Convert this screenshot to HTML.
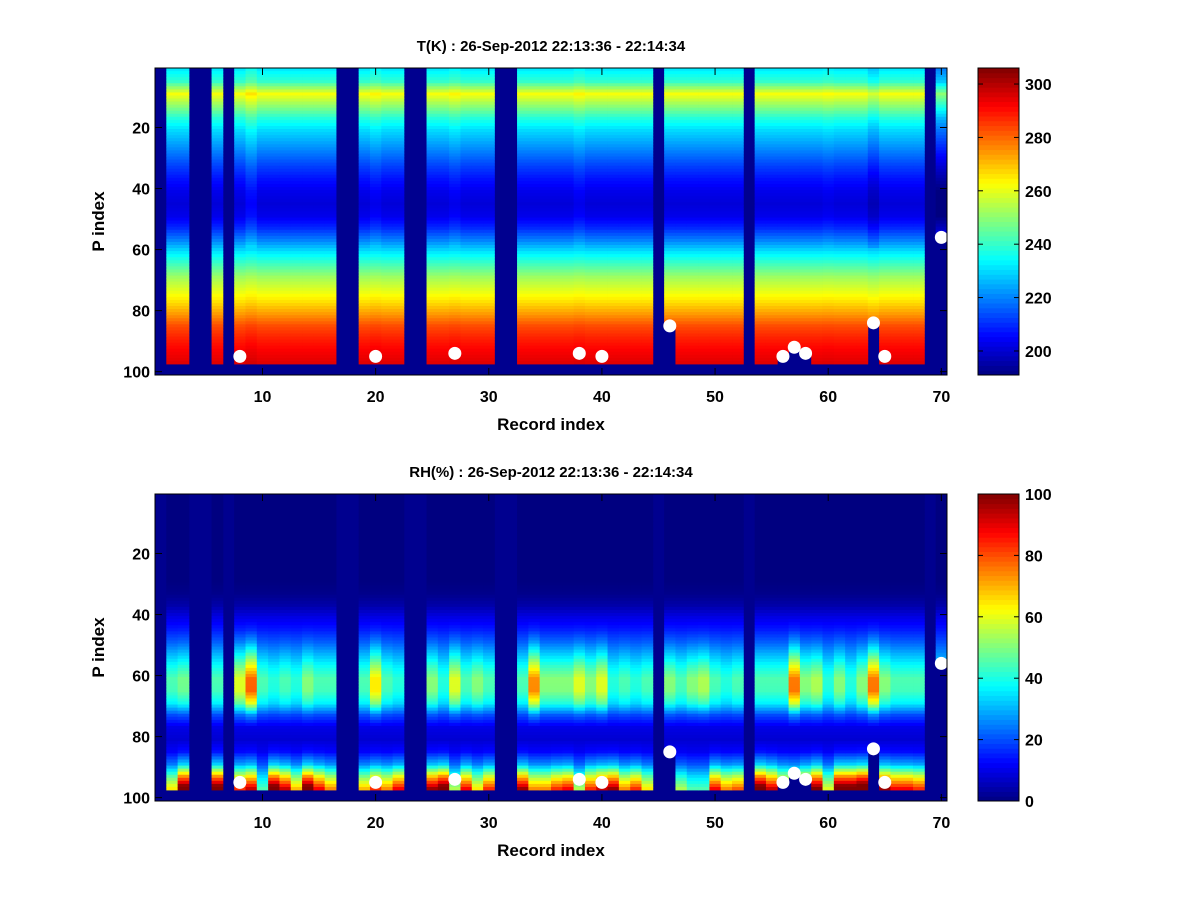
<!DOCTYPE html>
<html><head><meta charset="utf-8"><style>
html,body{margin:0;padding:0;background:#fff}
svg{display:block}
text{font-family:"Liberation Sans",sans-serif;font-weight:bold;fill:#000}
</style></head><body>
<svg id="fig" width="1200" height="900" viewBox="0 0 1200 900" xmlns="http://www.w3.org/2000/svg"></svg>
<script>
// ---- data ----
const cols = Array.from({length:70},(_,i)=>i+1);
const missingCols = [1,4,5,7,17,18,23,24,31,32,45,53,69];
const cutCols = [46,56,57,58,64,70];
const cutRows = [84,95,92,94,84,56];
const pKnots = [1,5,9,13,17,21,25,29,33,37,41,45,49,53,57,61,65,69,73,77,81,85,89,93,97];
const tProfile = [232,240,262,250,238,230,224,218,212,207,203,201,203,210,220,232,242,252,259,266,274,283,288,292,295];
const tOffCols = [70,64,9,27,20,38,60];
const tOffVals = [-12,-4,4,2,2,2,1];
const rhBg = [0,0,0,0,0,0,0,0,1,4,10,14,18,22,26,28,26,24,16,10,8,10,16,22,26];
const rhMidShape = [0,0,0,0,0,0,0,0,0,0,0,0.05,0.2,0.45,0.7,0.95,1,0.7,0.2,0,0,0,0,0,0];
const rhSfcShape = [0,0,0,0,0,0,0,0,0,0,0,0,0,0,0,0,0,0,0,0,0,0.05,0.2,0.6,0.95];
const rhMidCols = [2,3,6,8,9,10,11,12,13,14,15,16,19,20,21,22,25,26,27,28,29,30,33,34,35,36,37,38,39,40,41,42,43,44,46,47,48,49,50,51,52,54,55,56,57,58,59,60,61,62,63,64,65,66,67,68,70];
const rhMidVals = [18,22,18,33,52,18,14,18,14,24,18,18,18,38,18,14,24,14,33,18,24,18,18,48,24,24,24,33,24,33,14,18,14,18,24,18,24,28,18,14,18,18,18,18,50,24,28,14,24,14,24,50,24,18,18,18,10];
const rhSfcVals = [40,85,85,60,70,20,85,70,45,85,65,50,45,60,50,65,75,85,30,65,40,60,75,50,50,60,65,30,60,70,75,50,60,40,0,30,20,20,65,50,55,85,70,50,45,60,80,35,85,85,92,0,75,65,65,60,0];
const dotCols = [8,20,27,38,40,46,56,57,58,64,65,70];
const dotRows = [95,95,94,94,95,85,95,92,94,84,95,56];
const xTicks = [10,20,30,40,50,60,70];
const yTicks = [20,40,60,80,100];
const tCbTicks = [200,220,240,260,280,300];
const rhCbTicks = [0,20,40,60,80,100];

const NS="http://www.w3.org/2000/svg";
const svg=document.getElementById('fig');
function mk(tag,attrs,parent){const e=document.createElementNS(NS,tag);for(const k in attrs)e.setAttribute(k,attrs[k]);(parent||svg).appendChild(e);return e;}
function jet(v){
  v=Math.max(0,Math.min(1,v));
  const r=Math.max(0,Math.min(1,Math.min(4*v-1.5,-4*v+4.5)));
  const g=Math.max(0,Math.min(1,Math.min(4*v-0.5,-4*v+3.5)));
  const b=Math.max(0,Math.min(1,Math.min(4*v+0.5,-4*v+2.5)));
  return `rgb(${Math.round(r*255)},${Math.round(g*255)},${Math.round(b*255)})`;
}
function interp(arr,p){
  for(let i=0;i<pKnots.length-1;i++){if(p<=pKnots[i+1]){const t=(p-pKnots[i])/(pKnots[i+1]-pKnots[i]);return arr[i]+(arr[i+1]-arr[i])*Math.max(0,t);}}
  return arr[arr.length-1];
}
function lookup(keys,vals,c,d){const i=keys.indexOf(c);return i<0?d:vals[i];}

function panel(top,name,title,valueFn,cmin,cmax,cbTicks){
  const L=155,R=947,T=top,B=top+307;
  const xs=c=>L+(c-0.5)*(R-L)/70;
  const ys=p=>T+(p-0.5)*(B-T)/100.6;
  const g=mk('g',{});
  
  
  const bg=mk('rect',{x:L,y:T,width:R-L,height:B-T,fill:'#00008f'},g);
  
  
  const cw=(R-L)/70;
  for(const c of cols){
    if(missingCols.includes(c))continue;
    const last=lookup(cutCols,cutRows,c,97);
    for(let p=1;p<=last;p++){
      const v=valueFn(c,p);
      const r=mk('rect',{x:xs(c)-cw/2,y:ys(p-0.5),width:cw+0.4,height:(B-T)/100.6+0.4,fill:jet((v-cmin)/(cmax-cmin))},g);
      
      
    }
  }
  for(let i=0;i<dotCols.length;i++){
    const d=mk('circle',{cx:xs(dotCols[i]),cy:ys(dotRows[i]),r:6.5,fill:'#fff'},g);
    
    
  }
  const fr=mk('rect',{x:L,y:T,width:R-L,height:B-T,fill:'none',stroke:'#000','stroke-width':1},g);
  
  
  for(const t of xTicks){
    const x=xs(t);
    mk('line',{x1:x,y1:B,x2:x,y2:B-7,stroke:'#000'},g);
    mk('line',{x1:x,y1:T,x2:x,y2:T+7,stroke:'#000'},g);
    const tx=mk('text',{x:x,y:B+27,'text-anchor':'middle','font-size':16},g);tx.textContent=t;
    
    
  }
  for(const t of yTicks){
    const y=ys(t);
    mk('line',{x1:L,y1:y,x2:L+7,y2:y,stroke:'#000'},g);
    mk('line',{x1:R,y1:y,x2:R-7,y2:y,stroke:'#000'},g);
    const ty=mk('text',{x:L-5,y:y+6,'text-anchor':'end','font-size':16},g);ty.textContent=t;
    
    
  }
  const tt=mk('text',{x:551,y:T-17,'text-anchor':'middle','font-size':15},g);tt.textContent=title;
  
  
  const xl=mk('text',{x:551,y:B+55,'text-anchor':'middle','font-size':17},g);xl.textContent='Record index';
  
  
  const yl=mk('text',{x:104,y:(T+B)/2,'text-anchor':'middle','font-size':17,transform:`rotate(-90 104 ${(T+B)/2})`},g);yl.textContent='P index';
  
  
  const cL=978,cR=1019;
  const cb=mk('g',{},g);
  
  
  const n=64,h=(B-T)/n;
  for(let i=0;i<n;i++){mk('rect',{x:cL,y:B-(i+1)*h,width:cR-cL,height:h+0.5,fill:jet((i+0.5)/n)},cb);}
  mk('rect',{x:cL,y:T,width:cR-cL,height:B-T,fill:'none',stroke:'#000'},cb);
  for(const t of cbTicks){
    const y=B-(t-cmin)/(cmax-cmin)*(B-T);
    mk('line',{x1:cL,y1:y,x2:cL+5,y2:y,stroke:'#000'},cb);
    mk('line',{x1:cR,y1:y,x2:cR-5,y2:y,stroke:'#000'},cb);
    const l=mk('text',{x:cR+6,y:y+6,'font-size':16},cb);l.textContent=t;
    
    
  }
}
panel(68,'temperature','T(K) : 26-Sep-2012 22:13:36 - 22:14:34',
  (c,p)=>interp(tProfile,p)+lookup(tOffCols,tOffVals,c,0)*(p<60?1:0.3),191,306,tCbTicks);
panel(494,'humidity','RH(%) : 26-Sep-2012 22:13:36 - 22:14:34',
  (c,p)=>interp(rhBg,p)+lookup(rhMidCols,rhMidVals,c,18)*interp(rhMidShape,p)+lookup(rhMidCols,rhSfcVals,c,50)*interp(rhSfcShape,p),0,100,rhCbTicks);
</script>
</body></html>
